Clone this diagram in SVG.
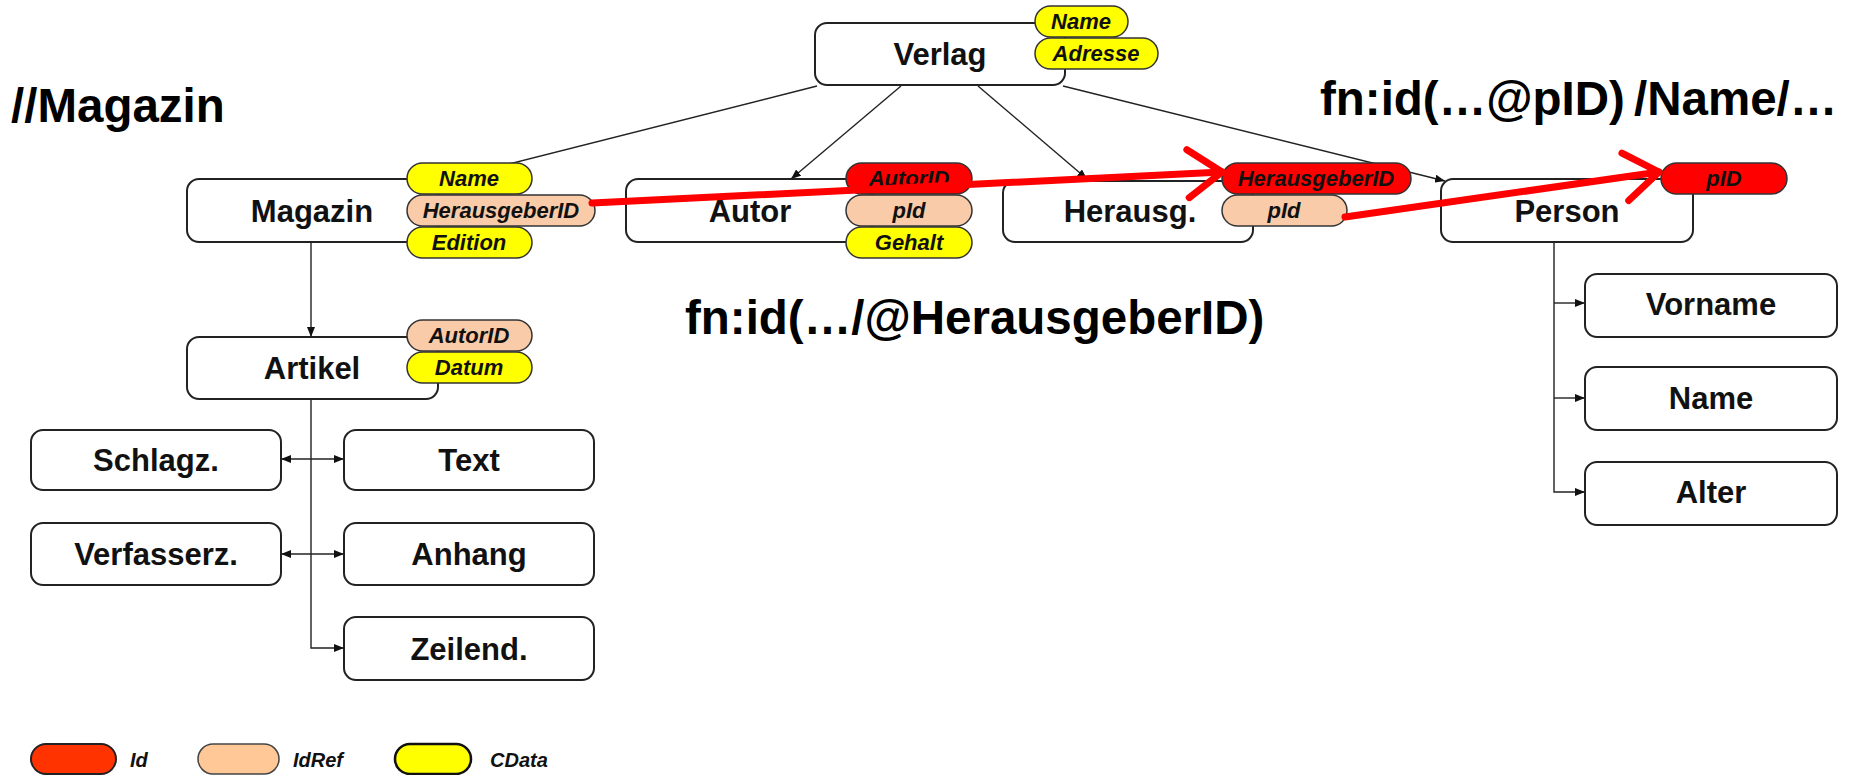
<svg xmlns="http://www.w3.org/2000/svg" width="1852" height="775" viewBox="0 0 1852 775">
<style>
.box{fill:#fff;stroke:#222;stroke-width:2}
.lbl{font-family:"Liberation Sans",Arial,sans-serif;font-weight:bold;font-size:31px;fill:#111;text-anchor:middle}
.pill{stroke:#333;stroke-width:1.5}
.ptx{font-family:"Liberation Sans",Arial,sans-serif;font-weight:bold;font-style:italic;font-size:22px;fill:#111;text-anchor:middle}
.id{fill:#ff0000}
.ref{fill:#f9cba8}
.cd{fill:#ffff00}
.big{font-family:"Liberation Sans",Arial,sans-serif;font-weight:bold;font-size:47.5px;fill:#000}
.con{fill:none;stroke:#222;stroke-width:1.4}
.red{fill:none;stroke:#ff0000;stroke-width:7;stroke-linecap:round}
.leg{font-family:"Liberation Sans",Arial,sans-serif;font-weight:bold;font-style:italic;font-size:20px;fill:#111}
</style>
<defs>
<marker id="ah" markerUnits="userSpaceOnUse" viewBox="0 0 10 8" refX="10" refY="4" markerWidth="10" markerHeight="8" orient="auto-start-reverse">
<path d="M0,0 L10,4 L0,8 Z" fill="#111"/>
</marker>
<marker id="rah" markerUnits="userSpaceOnUse" viewBox="0 0 50 60" refX="40" refY="30" markerWidth="50" markerHeight="60" orient="auto" overflow="visible">
<path d="M6,6 L40,30 L6,54" fill="none" stroke="#ff0000" stroke-width="7" stroke-linecap="round" stroke-linejoin="round"/>
</marker>
</defs>
<rect width="1852" height="775" fill="#fff"/>

<text class="big" x="11" y="122" font-size="48">//Magazin</text>
<text class="big" x="1320" y="115">fn:id(…@pID)<tspan dx="-4"> </tspan>/Name/…</text>
<text class="big" x="685" y="334">fn:id(…/@HerausgeberID)</text>

<g id="connectors">
<line class="con" x1="817" y1="86" x2="505" y2="165"/>
<line class="con" x1="901" y1="86" x2="791" y2="179" marker-end="url(#ah)"/>
<line class="con" x1="978" y1="86" x2="1087" y2="179" marker-end="url(#ah)"/>
<line class="con" x1="1063" y1="86" x2="1445" y2="181" marker-end="url(#ah)"/>
<line class="con" x1="311" y1="242" x2="311" y2="337" marker-end="url(#ah)"/>
<path class="con" d="M311,399 V648 H344" marker-end="url(#ah)"/>
<line class="con" x1="281" y1="459" x2="344" y2="459" marker-start="url(#ah)" marker-end="url(#ah)"/>
<line class="con" x1="281" y1="554" x2="344" y2="554" marker-start="url(#ah)" marker-end="url(#ah)"/>
<path class="con" d="M1554,242 V492 H1585" marker-end="url(#ah)"/>
<line class="con" x1="1554" y1="303" x2="1585" y2="303" marker-end="url(#ah)"/>
<line class="con" x1="1554" y1="398" x2="1585" y2="398" marker-end="url(#ah)"/>
</g>

<g id="verlag">
<rect class="box" x="815" y="23" width="250" height="62" rx="12"/>
<text class="lbl" x="940" y="65">Verlag</text>
<rect class="pill cd" x="1035" y="6" width="93" height="31" rx="15.5"/>
<text class="ptx" x="1081" y="29">Name</text>
<rect class="pill cd" x="1035" y="38" width="123" height="31" rx="15.5"/>
<text class="ptx" x="1096" y="61">Adresse</text>
</g>

<g id="magazin">
<rect class="box" x="187" y="179" width="251" height="63" rx="12"/>
<text class="lbl" x="312" y="222">Magazin</text>
<rect class="pill cd" x="407" y="163" width="125" height="31" rx="15.5"/>
<text class="ptx" x="469" y="186">Name</text>
<rect class="pill ref" x="407" y="195" width="188" height="31" rx="15.5"/>
<text class="ptx" x="501" y="218">HerausgeberID</text>
<rect class="pill cd" x="407" y="227" width="125" height="31" rx="15.5"/>
<text class="ptx" x="469" y="250">Edition</text>
</g>

<g id="autor">
<rect class="box" x="626" y="179" width="246" height="63" rx="12"/>
<text class="lbl" x="750" y="222">Autor</text>
<rect class="pill id" x="846" y="163" width="126" height="31" rx="15.5"/>
<text class="ptx" x="909" y="186">AutorID</text>
<rect class="pill ref" x="846" y="195" width="126" height="31" rx="15.5"/>
<text class="ptx" x="909" y="218">pId</text>
<rect class="pill cd" x="846" y="227" width="126" height="31" rx="15.5"/>
<text class="ptx" x="909" y="250">Gehalt</text>
</g>

<g id="herausg">
<rect class="box" x="1003" y="181" width="250" height="61" rx="12"/>
<text class="lbl" x="1130" y="222">Herausg.</text>
<rect class="pill id" x="1222" y="163" width="189" height="31" rx="15.5"/>
<text class="ptx" x="1316" y="186">HerausgeberID</text>
<rect class="pill ref" x="1222" y="195" width="125" height="31" rx="15.5"/>
<text class="ptx" x="1284" y="218">pId</text>
</g>

<g id="person">
<rect class="box" x="1441" y="179" width="252" height="63" rx="12"/>
<text class="lbl" x="1567" y="222">Person</text>
<rect class="pill id" x="1661" y="163" width="126" height="31" rx="15.5"/>
<text class="ptx" x="1724" y="186">pID</text>
</g>

<g id="artikel">
<rect class="box" x="187" y="337" width="251" height="62" rx="12"/>
<text class="lbl" x="312" y="379">Artikel</text>
<rect class="pill ref" x="407" y="320" width="125" height="31" rx="15.5"/>
<text class="ptx" x="469" y="343">AutorID</text>
<rect class="pill cd" x="407" y="352" width="125" height="31" rx="15.5"/>
<text class="ptx" x="469" y="375">Datum</text>
</g>

<g id="schlagz"><rect class="box" x="31" y="430" width="250" height="60" rx="12"/><text class="lbl" x="156" y="471">Schlagz.</text></g>
<g id="text"><rect class="box" x="344" y="430" width="250" height="60" rx="12"/><text class="lbl" x="469" y="471">Text</text></g>
<g id="verfasserz"><rect class="box" x="31" y="523" width="250" height="62" rx="12"/><text class="lbl" x="156" y="565">Verfasserz.</text></g>
<g id="anhang"><rect class="box" x="344" y="523" width="250" height="62" rx="12"/><text class="lbl" x="469" y="565">Anhang</text></g>
<g id="zeilend"><rect class="box" x="344" y="617" width="250" height="63" rx="12"/><text class="lbl" x="469" y="660">Zeilend.</text></g>

<g id="vorname"><rect class="box" x="1585" y="274" width="252" height="63" rx="12"/><text class="lbl" x="1711" y="315">Vorname</text></g>
<g id="name"><rect class="box" x="1585" y="367" width="252" height="63" rx="12"/><text class="lbl" x="1711" y="409">Name</text></g>
<g id="alter"><rect class="box" x="1585" y="462" width="252" height="63" rx="12"/><text class="lbl" x="1711" y="503">Alter</text></g>

<g id="id-arrows">
<line class="red" x1="592" y1="203" x2="1222" y2="172" marker-end="url(#rah)"/>
<line class="red" x1="1345" y1="217" x2="1659" y2="172" marker-end="url(#rah)"/>
</g>

<g id="legend">
<rect x="31" y="744" width="85" height="30" rx="15" fill="#ff3300" stroke="#222" stroke-width="2"/>
<text class="leg" x="130" y="767">Id</text>
<rect x="198" y="744" width="81" height="30" rx="15" fill="#ffc896" stroke="#444" stroke-width="1.5"/>
<text class="leg" x="293" y="767">IdRef</text>
<rect x="395" y="744" width="76" height="30" rx="15" fill="#ffff00" stroke="#111" stroke-width="2.5"/>
<text class="leg" x="490" y="767">CData</text>
</g>
</svg>
